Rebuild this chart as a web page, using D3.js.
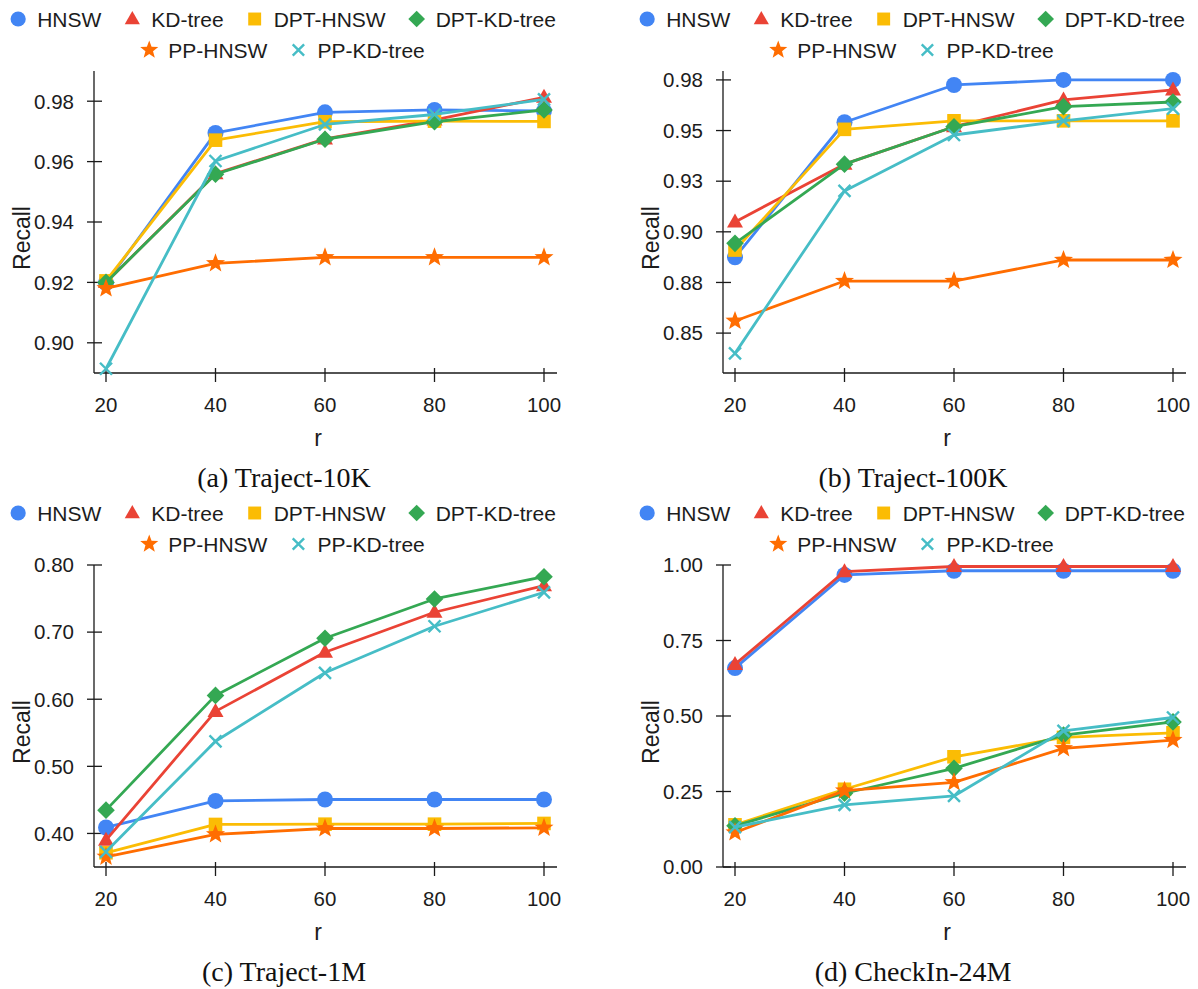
<!DOCTYPE html>
<html>
<head>
<meta charset="utf-8">
<script src="https://cdn.jsdelivr.net/npm/d3@7"></script>
<style>
  body { margin: 0; background: #fff; }
  svg { display: block; }
</style>
</head>
<body>
<svg id="fig" width="1198" height="989"></svg>
<script>
// ---- data ----
const rValues = [20, 40, 60, 80, 100];
const methods = ["HNSW", "KD-tree", "DPT-HNSW", "DPT-KD-tree", "PP-HNSW", "PP-KD-tree"];
const methodColors = ["#4285F4", "#EA4335", "#FBBC04", "#34A853", "#FF6D01", "#46BDC6"];
const methodShapes = ["circle", "triangle", "square", "diamond", "star", "cross"];

// recall per method (rows in the order of `methods`), one value per r
const recallTraject10K = [
  [0.9198, 0.9695, 0.9763, 0.9771, 0.9768],
  [0.9200, 0.9560, 0.9675, 0.9738, 0.9813],
  [0.9205, 0.9671, 0.9732, 0.9734, 0.9733],
  [0.9200, 0.9558, 0.9674, 0.9732, 0.9771],
  [0.9180, 0.9263, 0.9283, 0.9283, 0.9283],
  [0.8914, 0.9602, 0.9723, 0.9756, 0.9806]
];
const recallTraject100K = [
  [0.8874, 0.9541, 0.9725, 0.9750, 0.9750],
  [0.9049, 0.9334, 0.9519, 0.9651, 0.9701],
  [0.8910, 0.9506, 0.9548, 0.9548, 0.9548],
  [0.8943, 0.9334, 0.9519, 0.9618, 0.9641],
  [0.8560, 0.8757, 0.8757, 0.8861, 0.8861],
  [0.8400, 0.9202, 0.9478, 0.9548, 0.9608]
];
const recallTraject1M = [
  [0.4089, 0.4485, 0.4506, 0.4506, 0.4506],
  [0.3900, 0.5819, 0.6700, 0.7296, 0.7692],
  [0.3712, 0.4134, 0.4138, 0.4138, 0.4149],
  [0.4347, 0.6057, 0.6909, 0.7494, 0.7826],
  [0.3652, 0.3985, 0.4074, 0.4074, 0.4084],
  [0.3726, 0.5373, 0.6394, 0.7087, 0.7593]
];
const recallCheckIn24M = [
  [0.6587, 0.9670, 0.9810, 0.9810, 0.9810],
  [0.6710, 0.9780, 0.9950, 0.9950, 0.9950],
  [0.1396, 0.2574, 0.3650, 0.4290, 0.4443],
  [0.1363, 0.2442, 0.3267, 0.4366, 0.4805],
  [0.1142, 0.2528, 0.2805, 0.3927, 0.4201],
  [0.1320, 0.2056, 0.2353, 0.4508, 0.4950]
];

// y-axis ticks and their printed labels
const ticks10K = [0.90, 0.92, 0.94, 0.96, 0.98];
const tickLabels10K = ["0.90", "0.92", "0.94", "0.96", "0.98"];
const ticks100K = [0.85, 0.875, 0.90, 0.925, 0.95, 0.975];
const tickLabels100K = ["0.85", "0.88", "0.90", "0.93", "0.95", "0.98"];
const ticks1M = [0.40, 0.50, 0.60, 0.70, 0.80];
const tickLabels1M = ["0.40", "0.50", "0.60", "0.70", "0.80"];
const ticks24M = [0, 0.25, 0.50, 0.75, 1.00];
const tickLabels24M = ["0.00", "0.25", "0.50", "0.75", "1.00"];

const captions = ["(a) Traject-10K", "(b) Traject-100K", "(c) Traject-1M", "(d) CheckIn-24M"];

// ---- layout ----
const SANS = "'Liberation Sans', Arial, sans-serif";
const SERIF = "'Liberation Serif', 'Times New Roman', serif";
const colOffset = [0, 629];
const rowOffset = [0, 494];

const panels = [
  { data: recallTraject10K, ticks: ticks10K, labels: tickLabels10K, domain: [0.89, 0.99], col: 0, row: 0 },
  { data: recallTraject100K, ticks: ticks100K, labels: tickLabels100K, domain: [0.8303, 0.9794], col: 1, row: 0 },
  { data: recallTraject1M, ticks: ticks1M, labels: tickLabels1M, domain: [0.35, 0.80], col: 0, row: 1 },
  { data: recallCheckIn24M, ticks: ticks24M, labels: tickLabels24M, domain: [0, 1.0], col: 1, row: 1 }
];

const svg = d3.select("#fig");

// marker path for a given shape centred on (0,0)
function markerPath(shape, s) {
  const p = d3.path();
  if (shape === "circle") {
    p.arc(0, 0, 8 * s, 0, 2 * Math.PI);
  } else if (shape === "triangle") {
    const h = 14 * s, w = 8 * s;
    p.moveTo(0, -h * 0.6); p.lineTo(w, h * 0.4); p.lineTo(-w, h * 0.4); p.closePath();
  } else if (shape === "square") {
    const a = 6.8 * s;
    p.rect(-a, -a, 2 * a, 2 * a);
  } else if (shape === "diamond") {
    const a = 8.8 * s;
    p.moveTo(0, -a); p.lineTo(a, 0); p.lineTo(0, a); p.lineTo(-a, 0); p.closePath();
  } else if (shape === "star") {
    const R = 10 * s, r = R * 0.42;
    for (let i = 0; i < 10; i++) {
      const rad = i % 2 === 0 ? R : r;
      const ang = -Math.PI / 2 + i * Math.PI / 5;
      const x = rad * Math.cos(ang), y = rad * Math.sin(ang);
      if (i === 0) p.moveTo(x, y); else p.lineTo(x, y);
    }
    p.closePath();
  } else if (shape === "cross") {
    const a = 6 * s;
    p.moveTo(-a, -a); p.lineTo(a, a); p.moveTo(a, -a); p.lineTo(-a, a);
  }
  return p.toString();
}

function drawMarker(g, shape, color, x, y, s) {
  const path = g.append("path")
    .attr("d", markerPath(shape, s))
    .attr("transform", `translate(${x},${y})`);
  if (shape === "cross") {
    path.attr("fill", "none").attr("stroke", color).attr("stroke-width", 2.4);
  } else {
    path.attr("fill", color).attr("stroke", "none");
  }
}

// measure text width
const measurer = svg.append("text").attr("font-family", SANS).attr("font-size", 21).attr("visibility", "hidden");
function textWidth(str) { measurer.text(str); return measurer.node().getComputedTextLength(); }

function drawLegend(g, cx, yRow1, yRow2) {
  const rows = [[0, 1, 2, 3], [4, 5]];
  const ys = [yRow1, yRow2];
  rows.forEach((items, ri) => {
    const widths = items.map(i => textWidth(methods[i]));
    const total = 8 + items.length * 19 + d3.sum(widths) + (items.length - 1) * 31;
    let x = cx - total / 2 + 8;
    items.forEach((i, k) => {
      drawMarker(g, methodShapes[i], methodColors[i], x, ys[ri], 0.95);
      g.append("text")
        .attr("x", x + 19).attr("y", ys[ri] + 7.5)
        .attr("font-family", SANS).attr("font-size", 21).attr("fill", "#1c1c1c")
        .text(methods[i]);
      x += 19 + widths[k] + 31;
    });
  });
}

panels.forEach((pn, pi) => {
  const ox = colOffset[pn.col], oy = rowOffset[pn.row];
  const g = svg.append("g").attr("transform", `translate(${ox},${oy})`);

  const axisX = 94, axisRight = 557, plotTop = 71, plotBottom = 373;
  const x = d3.scaleLinear().domain([20, 100]).range([106, 544]);
  const y = d3.scaleLinear().domain(pn.domain).range([plotBottom, plotTop]);

  // legend
  drawLegend(g, 283, 19, 50);

  // axes
  g.append("line").attr("x1", axisX).attr("x2", axisX).attr("y1", plotTop).attr("y2", plotBottom)
    .attr("stroke", "#1a1a1a").attr("stroke-width", 1.3);
  g.append("line").attr("x1", axisX).attr("x2", axisRight).attr("y1", plotBottom).attr("y2", plotBottom)
    .attr("stroke", "#1a1a1a").attr("stroke-width", 1.3);

  pn.ticks.forEach((t, i) => {
    const yy = y(t);
    g.append("line").attr("x1", axisX - 7).attr("x2", axisX + 8).attr("y1", yy).attr("y2", yy)
      .attr("stroke", "#1a1a1a").attr("stroke-width", 1.3);
    g.append("text").attr("x", axisX - 20).attr("y", yy + 7.3)
      .attr("text-anchor", "end").attr("font-family", SANS).attr("font-size", 20.5).attr("fill", "#1c1c1c")
      .text(pn.labels[i]);
  });
  rValues.forEach(r => {
    const xx = x(r);
    g.append("line").attr("x1", xx).attr("x2", xx).attr("y1", plotBottom - 5).attr("y2", plotBottom + 9)
      .attr("stroke", "#1a1a1a").attr("stroke-width", 1.3);
    g.append("text").attr("x", xx).attr("y", 412)
      .attr("text-anchor", "middle").attr("font-family", SANS).attr("font-size", 20.5).attr("fill", "#1c1c1c")
      .text(r);
  });

  // axis titles
  g.append("text").attr("x", 318).attr("y", 446)
    .attr("text-anchor", "middle").attr("font-family", SANS).attr("font-size", 23).attr("fill", "#1c1c1c")
    .text("r");
  g.append("text").attr("transform", `translate(30,238) rotate(-90)`)
    .attr("text-anchor", "middle").attr("font-family", SANS).attr("font-size", 23).attr("fill", "#1c1c1c")
    .text("Recall");

  // series
  const line = d3.line().x((d, i) => x(rValues[i])).y(d => y(d));
  pn.data.forEach((vals, si) => {
    g.append("path").datum(vals).attr("d", line)
      .attr("fill", "none").attr("stroke", methodColors[si]).attr("stroke-width", 2.8)
      .attr("stroke-linejoin", "round");
    vals.forEach((v, i) => drawMarker(g, methodShapes[si], methodColors[si], x(rValues[i]), y(v), 1));
  });

  // caption
  g.append("text").attr("x", 284).attr("y", 487)
    .attr("text-anchor", "middle").attr("font-family", SERIF).attr("font-size", 28).attr("fill", "#111")
    .text(captions[pi]);
});
measurer.remove();
</script>
</body>
</html>
